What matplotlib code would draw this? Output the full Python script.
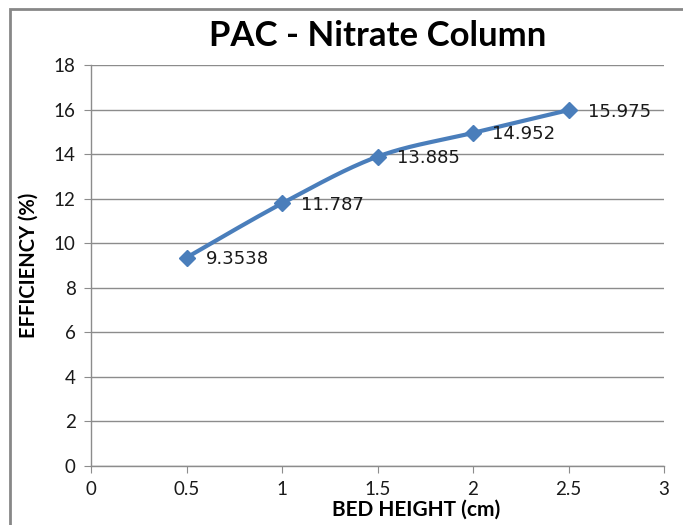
import numpy as np
import matplotlib
matplotlib.use("Agg")
import matplotlib.pyplot as plt
from matplotlib.patches import Rectangle

# Bed height vs. removal efficiency
bed_height = [0.5, 1.0, 1.5, 2.0, 2.5]
efficiency = [9.3538, 11.787, 13.885, 14.952, 15.975]
value_labels = ["9.3538", "11.787", "13.885", "14.952", "15.975"]

x_ticks = [0, 0.5, 1, 1.5, 2, 2.5, 3]
x_tick_labels = ["0", "0.5", "1", "1.5", "2", "2.5", "3"]
y_ticks = [0, 2, 4, 6, 8, 10, 12, 14, 16, 18]

title = "PAC - Nitrate Column"
x_label = "BED HEIGHT (cm)"
y_label = "EFFICIENCY (%)"

line_color = "#4A7EBB"
grid_color = "#8C8C8C"
axis_color = "#8C8C8C"


def smooth_curve(xs, ys, steps=40):
    """Cardinal Bezier smoothing through the given points."""
    pts = np.column_stack([xs, ys]).astype(float)
    n = len(pts)
    out = []
    for i in range(n - 1):
        p0 = pts[i - 1] if i > 0 else pts[i]
        p1 = pts[i]
        p2 = pts[i + 1]
        p3 = pts[i + 2] if i + 2 < n else pts[i + 1]
        c1 = p1 + (p2 - p0) / 6.0
        c2 = p2 - (p3 - p1) / 6.0
        t = np.linspace(0, 1, steps)[:, None]
        seg = ((1 - t) ** 3) * p1 + 3 * ((1 - t) ** 2) * t * c1 + 3 * (1 - t) * t ** 2 * c2 + t ** 3 * p2
        out.append(seg if i == 0 else seg[1:])
    curve = np.vstack(out)
    return curve[:, 0], curve[:, 1]


fig = plt.figure(figsize=(6.83, 5.25), dpi=100)
ax = fig.add_axes([91 / 683, 1 - 466 / 525, (664 - 91) / 683, (466 - 65) / 525])

# chart frame
fig.patches.append(Rectangle((10 / 683, -0.05), 1.2, 1 - 9 / 525 + 0.05,
                             transform=fig.transFigure, fill=False,
                             edgecolor="#878787", linewidth=2.0))

sx, sy = smooth_curve(bed_height, efficiency)
ax.plot(sx, sy, color=line_color, linewidth=3, solid_capstyle="round", zorder=3)
ax.plot(bed_height, efficiency, linestyle="none", marker="D", markersize=8,
        color=line_color, zorder=4)

for xv, yv, lab in zip(bed_height, efficiency, value_labels):
    ax.annotate(lab, (xv, yv), xytext=(14, -1), textcoords="offset points",
                ha="left", va="center", fontsize=13, family="DejaVu Sans",
                color="#1a1a1a")

ax.set_xlim(0, 3)
ax.set_ylim(0, 18)
ax.set_xticks(x_ticks)
ax.set_xticklabels(x_tick_labels)
ax.set_yticks(y_ticks)
ax.yaxis.grid(True, color=grid_color, linewidth=1)
ax.set_axisbelow(True)

for side in ("top", "right"):
    ax.spines[side].set_visible(False)
for side in ("left", "bottom"):
    ax.spines[side].set_color(axis_color)
    ax.spines[side].set_linewidth(1)

ax.tick_params(axis="both", direction="out", length=5, color=axis_color,
               labelsize=13.5, labelcolor="#1a1a1a", pad=6)
for lab in ax.get_xticklabels() + ax.get_yticklabels():
    lab.set_family("Lato")

ax.set_xlabel(x_label, fontsize=15, fontweight="bold", family="Lato")
ax.set_ylabel(y_label, fontsize=14.5, fontweight="bold", family="Lato")
ax.xaxis.set_label_coords(0.567, -0.084)
ax.yaxis.set_label_coords(-0.092, 0.501)

fig.text(378 / 683, 1 - 36 / 525, title, ha="center", va="center",
         fontsize=25, fontweight="bold", family="Lato")

fig.savefig("out.png", dpi=100)
